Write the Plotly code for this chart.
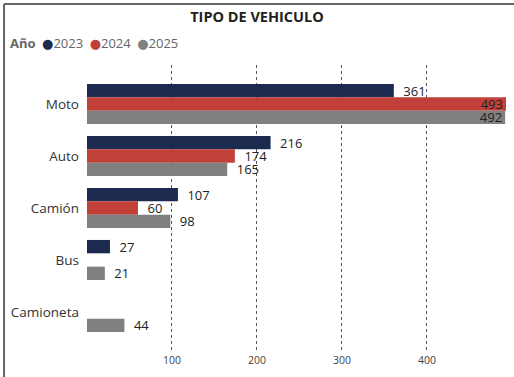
import plotly.graph_objects as go

categories = ["Moto", "Auto", "Camión", "Bus", "Camioneta"]
years = ["2023", "2024", "2025"]
values_2023 = [361, 216, 107, 27, None]
values_2024 = [493, 174, 60, None, None]
values_2025 = [492, 165, 98, 21, 44]
colors = ["#1d2a4f", "#c1403a", "#808080"]
x_ticks = [100, 200, 300, 400]

series = [values_2023, values_2024, values_2025]

fig = go.Figure()
for year, vals, color in zip(years, series, colors):
    # labels sit outside the bar unless the bar reaches the plot edge
    inside = [(v is not None and v > 450) for v in vals]
    fig.add_trace(go.Bar(
        name=year,
        y=categories,
        x=vals,
        orientation="h",
        marker=dict(color=color, line=dict(width=0)),
        text=[("" if v is None else (str(v) if ins else "\u2002" + str(v)))
              for v, ins in zip(vals, inside)],
        textposition=["inside" if ins else "outside" for ins in inside],
        insidetextanchor="end",
        textfont=dict(color="#222222", size=13, family="Open Sans"),
        cliponaxis=False,
        showlegend=False,
        hoverinfo="skip",
    ))

legend_text = "<b>Año</b>\u2002" + "\u2002".join(
    f"<span style='color:{c};font-size:13px;font-family:DejaVu Sans'>●</span>{y}"
    for y, c in zip(years, colors)
)

fig.update_layout(
    width=514, height=377,
    margin=dict(l=87, r=8, t=65, b=25),
    paper_bgcolor="white", plot_bgcolor="white",
    barmode="group", bargap=0.23, bargroupgap=0,
    uniformtext=dict(minsize=13, mode="show"),
    font=dict(family="Open Sans", color="#333333"),
    title=dict(text="<b>TIPO DE VEHICULO</b>", x=0.5, xref="container",
               y=0.955, yanchor="middle",
               font=dict(size=14.5, color="#222222")),
    xaxis=dict(range=[0, 493], tickvals=x_ticks, showgrid=True,
               gridcolor="#555555", griddash="dot", gridwidth=1,
               zeroline=False, showline=False, ticks="",
               tickfont=dict(size=10.5, color="#444444")),
    yaxis=dict(range=[4.77, -0.75], showgrid=False, ticks="",
               ticksuffix="  ", tickfont=dict(size=13.5, color="#333333")),
    annotations=[dict(text=legend_text, xref="paper", yref="paper",
                      x=-0.188, y=1.077, xanchor="left", yanchor="middle",
                      showarrow=False, font=dict(size=13, color="#666666"))],
    shapes=[
        dict(type="line", xref="paper", yref="paper", x0=-0.198, x1=1.05,
             y0=1.2125, y1=1.2125, line=dict(color="#666666", width=2)),
        dict(type="line", xref="paper", yref="paper", x0=-0.198, x1=-0.198,
             y0=-0.1, y1=1.2125, line=dict(color="#666666", width=2)),
    ],
)

fig.write_html("out.html")
